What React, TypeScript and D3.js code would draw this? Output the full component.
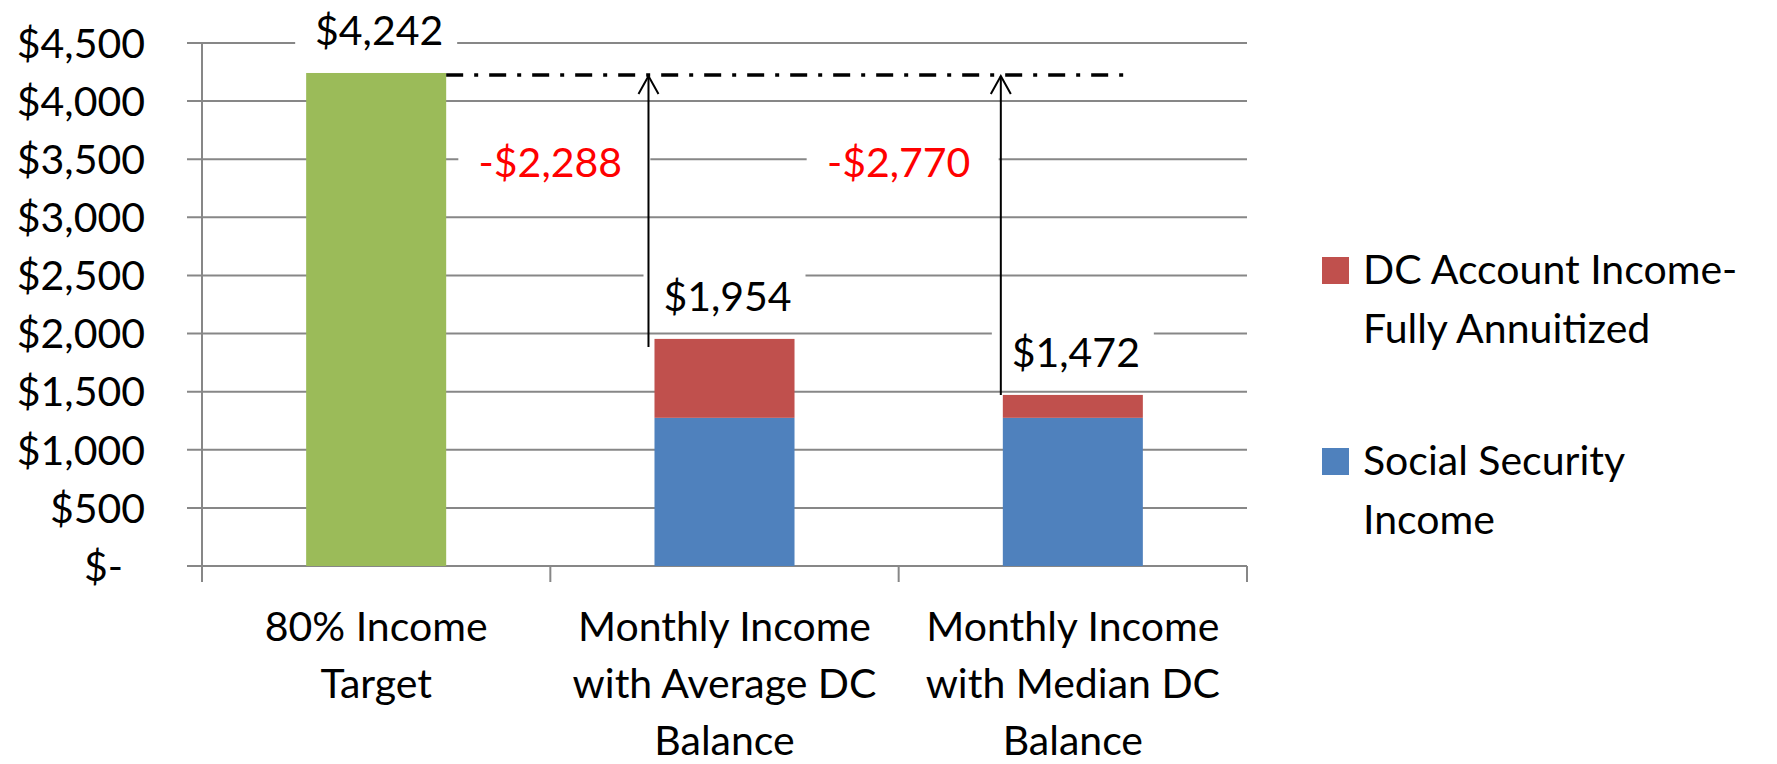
import React from "react";
import * as d3 from "d3";

// data
const categories = ["target", "average", "median"];
const categoryLines = [
  ["80% Income", "Target"],
  ["Monthly Income", "with Average DC", "Balance"],
  ["Monthly Income", "with Median DC", "Balance"],
];
const targetIncome = [4242, 0, 0];
const socialSecurity = [0, 1275, 1275];
const dcIncome = [0, 679, 197];
const yTicks = [0, 500, 1000, 1500, 2000, 2500, 3000, 3500, 4000, 4500];
const legendItems = [
  { lines: ["DC Account Income-", "Fully Annuitized"], color: "#C0504D" },
  { lines: ["Social Security", "Income"], color: "#4F81BD" },
];

const W = 1777;
const H = 764;
const FONT = "Lato, 'Open Sans', sans-serif";
const FS = 41;
const GRID = "#878787";

const money = (v: number) => (v === 0 ? "$-" : "$" + d3.format(",")(v));

const App = () => {
  const x = d3
    .scaleBand<string>()
    .domain(categories)
    .range([202, 1247])
    .paddingInner(0.598)
    .paddingOuter(0.299);
  const y = d3.scaleLinear().domain([0, 4500]).range([566, 43]);
  const step = x.step();
  const bw = x.bandwidth();

  const totals = categories.map((_, i) => targetIncome[i] + socialSecurity[i] + dcIncome[i]);
  const target = targetIncome[0];
  const gaps = [1, 2].map((i) => totals[i] - target);

  const cx = (i: number) => (x(categories[i]) as number) + bw / 2;
  const boundaries = d3.range(categories.length + 1).map((i) => 202 + i * step);

  return (
    <svg
      width={W}
      height={H}
      style={{ position: "absolute", left: 0, top: 0, background: "#fff" }}
      fontFamily={FONT}
    >
      {/* gridlines + y ticks */}
      {yTicks.map((t) => (
        <line key={t} x1={187} x2={1247} y1={y(t)} y2={y(t)} stroke={GRID} strokeWidth={2} />
      ))}
      {yTicks.map((t) => (
        <text
          key={"l" + t}
          x={t === 0 ? 123 : 145}
          y={y(t)}
          dy="0.36em"
          textAnchor="end"
          fontSize={FS}
          fill="#000"
        >
          {money(t)}
        </text>
      ))}
      {/* axes */}
      <line x1={202} x2={202} y1={y(4500)} y2={582} stroke={GRID} strokeWidth={2} />
      {boundaries.slice(1).map((b, i) => (
        <line key={"t" + i} x1={b} x2={b} y1={y(0)} y2={582} stroke={GRID} strokeWidth={2} />
      ))}

      {/* bars */}
      {categories.map((c, i) => {
        const x0 = x(c) as number;
        return (
          <g key={c}>
            {targetIncome[i] > 0 && (
              <rect x={x0} width={bw} y={y(targetIncome[i])} height={y(0) - y(targetIncome[i])} fill="#9BBB59" />
            )}
            {socialSecurity[i] > 0 && (
              <rect x={x0} width={bw} y={y(socialSecurity[i])} height={y(0) - y(socialSecurity[i])} fill="#4F81BD" />
            )}
            {dcIncome[i] > 0 && (
              <rect
                x={x0}
                width={bw}
                y={y(socialSecurity[i] + dcIncome[i])}
                height={y(socialSecurity[i]) - y(socialSecurity[i] + dcIncome[i])}
                fill="#C0504D"
              />
            )}
          </g>
        );
      })}

      {/* total labels */}
      {totals.map((v, i) => {
        const base = y(v) - 28;
        return (
          <g key={"v" + i}>
            <rect x={cx(i) - 81} width={162} y={base - 44} height={54} fill="#fff" />
            <text x={cx(i) + 3} y={base} textAnchor="middle" fontSize={FS}>
              {money(v)}
            </text>
          </g>
        );
      })}

      {/* gap labels */}
      {gaps.map((g, i) => {
        const bx = boundaries[i + 1];
        return (
          <g key={"g" + i}>
            <rect x={bx - 92} width={192} y={133} height={54} fill="#fff" />
            <text x={bx} y={177} textAnchor="middle" fontSize={FS} fill="#FF0000">
              {"-" + money(-g)}
            </text>
          </g>
        );
      })}

      {/* target dash-dot line */}
      <line
        x1={(x(categories[0]) as number) + bw}
        x2={(x(categories[2]) as number) + bw * 0.86}
        y1={y(target) + 2}
        y2={y(target) + 2}
        stroke="#000"
        strokeWidth={3.5}
        strokeDasharray="17 11 4 11"
      />

      {/* arrows */}
      {[1, 2].map((i, k) => {
        const ax = (x(categories[i]) as number) - (k === 0 ? 6 : 2);
        const yb = y(totals[i]) + (k === 0 ? 8 : 0);
        const yt = y(target) + 3;
        return (
          <g key={"a" + i} stroke="#000" strokeWidth={2} fill="none">
            <line x1={ax} x2={ax} y1={yb} y2={yt} />
            <polyline points={`${ax - 10},${yt + 18} ${ax},${yt} ${ax + 10},${yt + 18}`} />
          </g>
        );
      })}

      {/* category labels */}
      {categoryLines.map((lines, i) =>
        lines.map((ln, j) => (
          <text key={`c${i}-${j}`} x={cx(i)} y={641 + j * 57} textAnchor="middle" fontSize={FS}>
            {ln}
          </text>
        ))
      )}

      {/* legend */}
      {legendItems.map((it, i) => {
        const top = 257 + i * 191;
        return (
          <g key={"lg" + i}>
            <rect x={1322} y={top} width={27} height={27} fill={it.color} />
            {it.lines.map((ln, j) => (
              <text key={j} x={1363} y={top + 27 + j * 59} fontSize={FS}>
                {ln}
              </text>
            ))}
          </g>
        );
      })}
    </svg>
  );
};

export default App;
